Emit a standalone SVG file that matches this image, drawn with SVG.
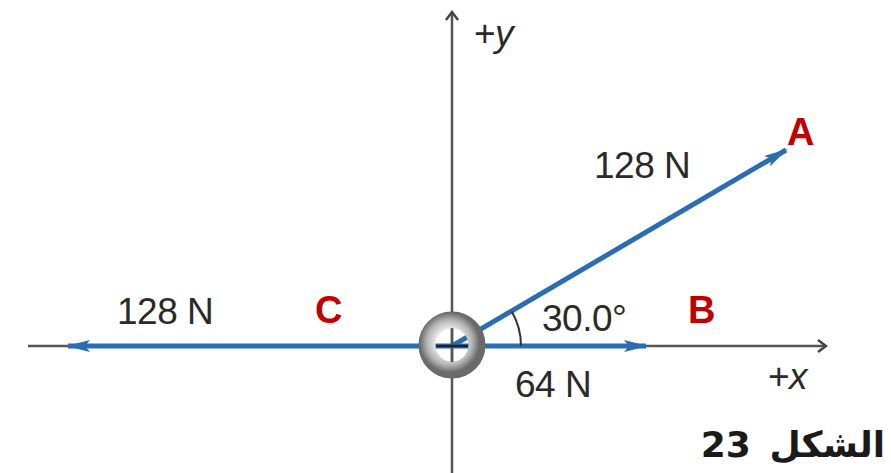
<svg xmlns="http://www.w3.org/2000/svg" width="891" height="473" viewBox="0 0 891 473">
<style>
.axis{stroke:#555;stroke-width:2.5;fill:none}
.vec{stroke:#2b6cb3;stroke-width:5;fill:none}
.lbl{font-family:"Liberation Sans",Arial,sans-serif;font-size:37px;fill:#2a2a2a;letter-spacing:-0.5px}
.red{font-family:"Liberation Sans",Arial,sans-serif;font-size:38px;font-weight:bold;fill:#c00000}
</style>
<defs>
<marker id="ah" viewBox="0 0 24 12" refX="22" refY="6" markerWidth="24" markerHeight="12" markerUnits="userSpaceOnUse" orient="auto">
<path d="M0,0 L24,6 L0,12 L5,6 Z" fill="#2b6cb3"/>
</marker>
<marker id="ax" viewBox="0 0 12 14" refX="10" refY="7" markerWidth="12" markerHeight="14" markerUnits="userSpaceOnUse" orient="auto">
<path d="M2,1 L10,7 L2,13" fill="none" stroke="#444" stroke-width="2.5"/>
</marker>
<radialGradient id="ring" cx="0.45" cy="0.45" r="0.6">
<stop offset="0.4" stop-color="#f4f4f4"/>
<stop offset="0.75" stop-color="#b5b5b5"/>
<stop offset="1" stop-color="#6a6a6a"/>
</radialGradient>
</defs>
<rect width="891" height="473" fill="#fff"/>
<g id="axes">
<line class="axis" x1="28" y1="346" x2="826" y2="346" marker-end="url(#ax)"/>
<line class="axis" x1="452" y1="473" x2="452" y2="12" marker-end="url(#ax)"/>
</g>
<g id="connectors">
<line id="vecA" class="vec" x1="452" y1="346" x2="786" y2="150" marker-end="url(#ah)"/>
<line id="vecB" class="vec" x1="452" y1="346" x2="646" y2="346" marker-end="url(#ah)"/>
<line id="vecC" class="vec" x1="452" y1="346" x2="68" y2="346" marker-end="url(#ah)"/>
<path id="angle" d="M521,346 A69,69 0 0 0 511.8,311.5" fill="none" stroke="#333" stroke-width="2"/>
</g>
<g id="ring-node">
<circle cx="452" cy="345" r="25" fill="none" stroke="url(#ring)" stroke-width="17"/>
<line x1="452" y1="328" x2="452" y2="362" stroke="#555" stroke-width="2.5"/>
<line x1="436" y1="346" x2="468" y2="346" stroke="#222" stroke-width="2.5"/>
</g>
<g id="labels">
<text class="lbl" x="594" y="178">128 N</text>
<text class="lbl" x="117" y="324">128 N</text>
<text class="lbl" x="542" y="331">30.0°</text>
<text class="lbl" x="515" y="397">64 N</text>
<text class="lbl" x="474" y="46">+<tspan font-style="italic">y</tspan></text>
<text class="lbl" x="768" y="389">+<tspan font-style="italic">x</tspan></text>
<text class="red" x="787" y="145">A</text>
<text class="red" x="688" y="323">B</text>
<text class="red" x="315" y="323">C</text>
<text x="885" y="457" text-anchor="start" font-family="'DejaVu Sans','Noto Sans',sans-serif" font-size="36" font-weight="bold" fill="#1a1a1a" direction="rtl" word-spacing="6">الشكل 23</text>
</g>
</svg>
